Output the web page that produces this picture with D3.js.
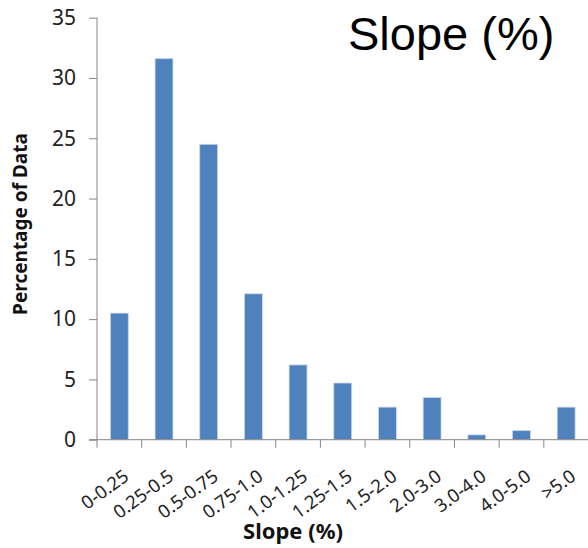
<!DOCTYPE html>
<html><head><meta charset="utf-8">
<script src="https://cdn.jsdelivr.net/npm/d3@7"></script>
<style>body{margin:0;background:#fff}svg{display:block}</style>
</head><body>
<script>
const categories = ["0-0.25","0.25-0.5","0.5-0.75","0.75-1.0","1.0-1.25","1.25-1.5","1.5-2.0","2.0-3.0","3.0-4.0","4.0-5.0",">5.0"];
const values = [10.5, 31.6, 24.5, 12.1, 6.2, 4.7, 2.7, 3.5, 0.4, 0.75, 2.7];
const yTicks = [0,5,10,15,20,25,30,35];
const title = "Slope (%)";
const xTitle = "Slope (%)";
const yTitle = "Percentage of Data";

const W = 588, H = 548;
const svg = d3.select("body").append("svg").attr("width", W).attr("height", H);
const x0 = 97, x1 = 588.5, yTop = 17.7, yBot = 439.7;
const x = d3.scaleBand().domain(categories).range([x0, x1]).paddingInner(0.6).paddingOuter(0.3);
const y = d3.scaleLinear().domain([0, 35]).range([yBot, yTop]);
const axisColor = "#868686";
const font = "'Noto Sans', sans-serif";

// bars
svg.selectAll("rect.bar").data(values).join("rect")
  .attr("class","bar")
  .attr("x",(d,i)=>x(categories[i]))
  .attr("width", x.bandwidth())
  .attr("y", d=>y(d))
  .attr("height", d=>y(0)-y(d))
  .attr("fill","#4F81BD")
  .attr("stroke","#C6D5EA").attr("stroke-width",0.8);

// y axis
const yAxis = d3.axisLeft(y).tickValues(yTicks).tickSize(8).tickPadding(13);
const gy = svg.append("g").attr("transform",`translate(${x0},0)`).call(yAxis);
gy.attr("font-size",null).attr("font-family",null);
gy.select(".domain").attr("stroke",axisColor).attr("d",`M0,${yTop}V${yBot}`);
gy.selectAll(".tick line").attr("stroke",axisColor);
gy.selectAll(".tick text").style("font-family",font).style("font-size","21px").attr("fill","#222");

// x axis
const step = x.step();
const boundaries = d3.range(categories.length).map(i => x0 + i*step);
const gx = svg.append("g");
gx.append("line").attr("x1",x0-8).attr("x2",W).attr("y1",yBot).attr("y2",yBot).attr("stroke",axisColor);
gx.selectAll("line.tk").data(boundaries).join("line").attr("class","tk")
  .attr("x1",d=>d).attr("x2",d=>d).attr("y1",yBot).attr("y2",yBot+8).attr("stroke",axisColor);
gx.selectAll("text").data(categories).join("text")
  .attr("transform",d=>`translate(${x(d)+x.bandwidth()/2+7},${yBot+34}) rotate(-36)`)
  .attr("text-anchor","end").attr("dy","0.35em")
  .style("font-family",font).style("font-size","18.5px").attr("fill","#222")
  .text(d=>d);

// axis titles
svg.append("text").attr("x",293).attr("y",539).attr("text-anchor","middle")
  .style("font-family",font).style("font-size","22px").attr("font-weight","bold").attr("fill","#111").text(xTitle);
svg.append("text").attr("transform","translate(27,224) rotate(-90)").attr("text-anchor","middle")
  .style("font-family",font).style("font-size","19px").attr("font-weight","bold").attr("fill","#111").text(yTitle);

// chart title
svg.append("text").attr("x",348).attr("y",50)
  .style("font-family","'Liberation Sans', Arial, sans-serif").style("font-size","47px").attr("fill","#000").text(title);
</script>
</body></html>
